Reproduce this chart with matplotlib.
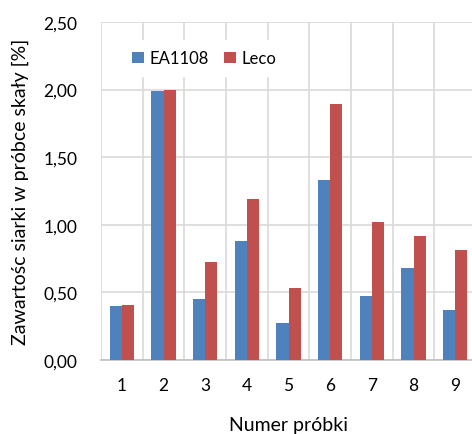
import matplotlib
matplotlib.use("Agg")
import matplotlib.pyplot as plt
import numpy as np

samples = ["1", "2", "3", "4", "5", "6", "7", "8", "9"]
ea1108 = [0.40, 1.99, 0.45, 0.88, 0.27, 1.33, 0.47, 0.68, 0.37]
leco = [0.405, 2.00, 0.725, 1.19, 0.535, 1.89, 1.02, 0.915, 0.81]
yticks = [0.0, 0.5, 1.0, 1.5, 2.0, 2.5]

plt.rcParams['font.family'] = ['Lato', 'DejaVu Sans']

fig = plt.figure(figsize=(4.72, 4.35), dpi=100)
ax = fig.add_axes([101 / 472, 74 / 435, 375 / 472, 338 / 435])

x = np.arange(1, len(samples) + 1)
w = 0.29
ax.bar(x - w / 2, ea1108, w, color="#4F81BD", label="EA1108", zorder=3)
ax.bar(x + w / 2, leco, w, color="#C0504D", label="Leco", zorder=3)

ax.set_xlim(0.5, 9.5)
ax.set_ylim(0, 2.5)
ax.set_xticks(x)
ax.set_xticklabels(samples)
ax.set_xticks(np.arange(0.5, 9.6, 1), minor=True)
ax.set_yticks(yticks)
ax.set_yticklabels([f"{v:.2f}".replace(".", ",") for v in yticks])

ax.grid(axis="y", which="major", color="#D9D9D9", linewidth=1.2, zorder=0)
ax.grid(axis="x", which="minor", color="#D9D9D9", linewidth=1.2, zorder=0)
ax.tick_params(which="both", length=0, labelsize=12.5, colors="#000000")
ax.tick_params(axis="x", pad=12)
ax.tick_params(axis="y", pad=17)

for s in ["top", "right", "left"]:
    ax.spines[s].set_visible(False)
ax.spines["bottom"].set_color("#BFBFBF")
ax.spines["bottom"].set_linewidth(1.2)

ax.set_xlabel("Numer próbki", fontsize=14, labelpad=17)
ax.set_ylabel("Zawartośc siarki w próbce skały [%]", fontsize=14, labelpad=10)

leg = ax.legend(ncol=2, loc="upper left", bbox_to_anchor=(0.035, 0.97),
                frameon=True, fancybox=False, edgecolor="white", framealpha=1,
                handlelength=0.7, handleheight=0.7, handletextpad=0.35,
                columnspacing=0.9, fontsize=12, borderpad=0.6)
leg.set_zorder(5)

fig.savefig("out.png", dpi=100)
